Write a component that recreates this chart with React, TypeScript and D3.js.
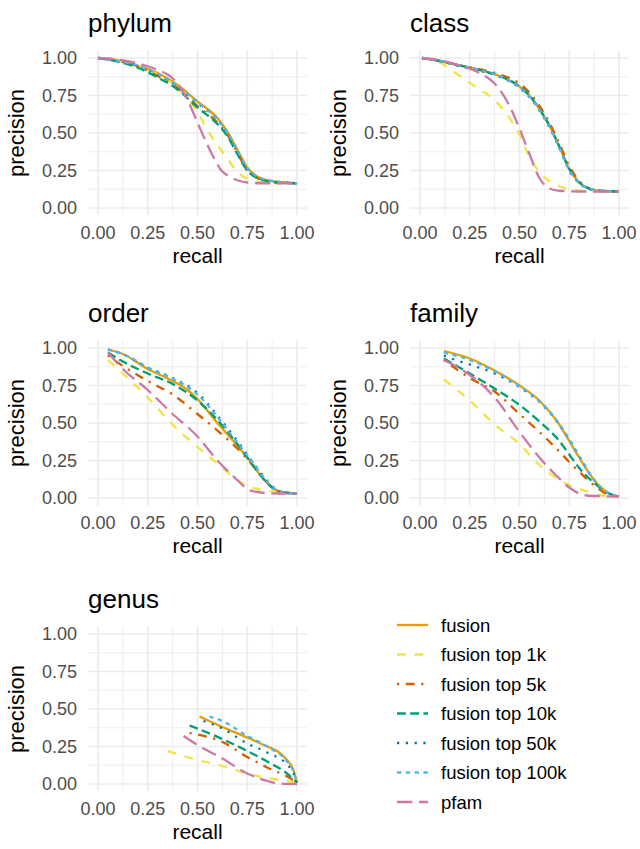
import React from "react";
import * as d3 from "d3";

// series order as in the legend
const seriesNames = [
  "fusion",
  "fusion top 1k",
  "fusion top 5k",
  "fusion top 10k",
  "fusion top 50k",
  "fusion top 100k",
  "pfam",
];
const seriesColors = ["#E69F00", "#F0E442", "#D55E00", "#009E73", "#0072B2", "#56B4E9", "#CC79A7"];
// ggplot style dash patterns (multiplied by line width below)
const seriesDash = ["", "4 4", "1 3 4 3", "4 2", "1 3", "2 2", "7 3"];

const ticks = [0, 0.25, 0.5, 0.75, 1];
const minorTicks = [0.125, 0.375, 0.625, 0.875];
const tickLabels = ["0.00", "0.25", "0.50", "0.75", "1.00"];

type Pt = [number, number];

// [recall, precision] per series, same order as seriesNames
const phylum: Pt[][] = [
  [[0, 1], [0.1, 0.985], [0.2, 0.95], [0.3, 0.9], [0.4, 0.82], [0.5, 0.71], [0.6, 0.6], [0.65, 0.51], [0.7, 0.39], [0.75, 0.27], [0.8, 0.21], [0.85, 0.185], [0.9, 0.175], [1, 0.165]],
  [[0, 1], [0.1, 0.985], [0.2, 0.95], [0.3, 0.89], [0.4, 0.8], [0.45, 0.73], [0.5, 0.64], [0.55, 0.52], [0.6, 0.42], [0.65, 0.33], [0.7, 0.24], [0.75, 0.195], [0.8, 0.175], [0.9, 0.165], [1, 0.165]],
  [[0, 1], [0.1, 0.98], [0.2, 0.945], [0.3, 0.88], [0.4, 0.8], [0.5, 0.68], [0.6, 0.57], [0.65, 0.49], [0.7, 0.37], [0.75, 0.25], [0.8, 0.2], [0.85, 0.18], [0.9, 0.17], [1, 0.165]],
  [[0, 1], [0.1, 0.975], [0.2, 0.935], [0.3, 0.87], [0.4, 0.79], [0.5, 0.67], [0.6, 0.56], [0.65, 0.48], [0.7, 0.36], [0.75, 0.25], [0.8, 0.2], [0.85, 0.18], [0.9, 0.17], [1, 0.165]],
  [[0, 1], [0.1, 0.98], [0.2, 0.95], [0.3, 0.89], [0.4, 0.81], [0.5, 0.7], [0.6, 0.59], [0.65, 0.5], [0.7, 0.38], [0.75, 0.26], [0.8, 0.205], [0.85, 0.185], [0.9, 0.175], [1, 0.165]],
  [[0, 1], [0.1, 0.98], [0.2, 0.95], [0.3, 0.895], [0.4, 0.815], [0.5, 0.705], [0.6, 0.59], [0.65, 0.505], [0.7, 0.385], [0.75, 0.265], [0.8, 0.21], [0.85, 0.185], [0.9, 0.175], [1, 0.165]],
  [[0, 1], [0.1, 0.99], [0.2, 0.965], [0.3, 0.92], [0.35, 0.89], [0.4, 0.83], [0.45, 0.72], [0.5, 0.57], [0.55, 0.42], [0.58, 0.34], [0.62, 0.25], [0.66, 0.21], [0.7, 0.185], [0.75, 0.17], [0.8, 0.165], [1, 0.165]],
];

const classLevel: Pt[][] = [
  [[0.01, 1], [0.1, 0.98], [0.2, 0.95], [0.3, 0.92], [0.4, 0.88], [0.5, 0.81], [0.55, 0.75], [0.6, 0.66], [0.65, 0.55], [0.7, 0.41], [0.75, 0.26], [0.8, 0.17], [0.85, 0.13], [0.9, 0.115], [1, 0.11]],
  [[0.01, 1], [0.1, 0.97], [0.2, 0.88], [0.3, 0.79], [0.375, 0.72], [0.45, 0.6], [0.5, 0.49], [0.55, 0.34], [0.6, 0.24], [0.65, 0.18], [0.7, 0.145], [0.8, 0.115], [0.9, 0.11], [1, 0.11]],
  [[0.01, 1], [0.1, 0.98], [0.2, 0.95], [0.3, 0.925], [0.4, 0.89], [0.5, 0.83], [0.55, 0.77], [0.6, 0.68], [0.65, 0.57], [0.7, 0.43], [0.75, 0.28], [0.8, 0.18], [0.85, 0.13], [0.9, 0.115], [1, 0.11]],
  [[0.01, 1], [0.1, 0.98], [0.2, 0.95], [0.3, 0.92], [0.4, 0.88], [0.5, 0.81], [0.55, 0.75], [0.6, 0.66], [0.65, 0.55], [0.7, 0.41], [0.75, 0.26], [0.8, 0.17], [0.85, 0.13], [0.9, 0.115], [1, 0.11]],
  [[0.01, 1], [0.1, 0.98], [0.2, 0.945], [0.3, 0.915], [0.4, 0.875], [0.5, 0.8], [0.55, 0.74], [0.6, 0.65], [0.65, 0.54], [0.7, 0.4], [0.75, 0.25], [0.8, 0.165], [0.85, 0.125], [0.9, 0.115], [1, 0.11]],
  [[0.01, 1], [0.1, 0.98], [0.2, 0.95], [0.3, 0.92], [0.4, 0.88], [0.5, 0.805], [0.55, 0.745], [0.6, 0.655], [0.65, 0.545], [0.7, 0.405], [0.75, 0.255], [0.8, 0.17], [0.85, 0.13], [0.9, 0.115], [1, 0.11]],
  [[0.01, 1], [0.1, 0.985], [0.2, 0.95], [0.3, 0.9], [0.375, 0.83], [0.45, 0.68], [0.5, 0.53], [0.55, 0.36], [0.6, 0.2], [0.65, 0.13], [0.7, 0.115], [0.8, 0.11], [1, 0.11]],
];

const order: Pt[][] = [
  [[0.05, 0.99], [0.125, 0.96], [0.25, 0.86], [0.375, 0.78], [0.45, 0.72], [0.5, 0.66], [0.6, 0.5], [0.7, 0.35], [0.75, 0.27], [0.8, 0.18], [0.875, 0.07], [0.92, 0.04], [1, 0.03]],
  [[0.05, 0.92], [0.125, 0.83], [0.25, 0.67], [0.375, 0.49], [0.5, 0.34], [0.6, 0.23], [0.7, 0.12], [0.75, 0.08], [0.85, 0.05], [1, 0.03]],
  [[0.05, 0.95], [0.125, 0.88], [0.25, 0.78], [0.375, 0.69], [0.5, 0.56], [0.6, 0.45], [0.7, 0.33], [0.75, 0.26], [0.8, 0.18], [0.875, 0.07], [0.92, 0.04], [1, 0.03]],
  [[0.05, 0.97], [0.125, 0.91], [0.25, 0.83], [0.375, 0.76], [0.5, 0.65], [0.6, 0.52], [0.7, 0.36], [0.75, 0.27], [0.8, 0.18], [0.875, 0.07], [0.92, 0.04], [1, 0.03]],
  [[0.05, 0.99], [0.125, 0.96], [0.25, 0.87], [0.375, 0.8], [0.5, 0.7], [0.6, 0.55], [0.7, 0.38], [0.75, 0.29], [0.8, 0.2], [0.875, 0.08], [0.92, 0.04], [1, 0.03]],
  [[0.05, 0.99], [0.125, 0.96], [0.25, 0.87], [0.375, 0.795], [0.5, 0.69], [0.6, 0.54], [0.7, 0.37], [0.75, 0.285], [0.8, 0.195], [0.875, 0.075], [0.92, 0.04], [1, 0.03]],
  [[0.05, 0.97], [0.125, 0.86], [0.25, 0.72], [0.375, 0.56], [0.5, 0.41], [0.6, 0.25], [0.7, 0.12], [0.75, 0.06], [0.8, 0.04], [0.9, 0.03], [1, 0.03]],
];

const family: Pt[][] = [
  [[0.12, 0.98], [0.25, 0.93], [0.375, 0.85], [0.5, 0.75], [0.6, 0.65], [0.7, 0.49], [0.75, 0.38], [0.8, 0.27], [0.875, 0.12], [0.95, 0.03], [1, 0.01]],
  [[0.12, 0.79], [0.25, 0.65], [0.375, 0.49], [0.5, 0.36], [0.6, 0.22], [0.7, 0.12], [0.75, 0.085], [0.85, 0.04], [0.9, 0.02], [1, 0.01]],
  [[0.12, 0.92], [0.25, 0.8], [0.375, 0.71], [0.5, 0.56], [0.6, 0.44], [0.7, 0.31], [0.75, 0.24], [0.8, 0.175], [0.875, 0.085], [0.95, 0.02], [1, 0.01]],
  [[0.12, 0.93], [0.25, 0.83], [0.375, 0.73], [0.5, 0.62], [0.6, 0.51], [0.7, 0.38], [0.75, 0.29], [0.8, 0.2], [0.875, 0.1], [0.95, 0.03], [1, 0.01]],
  [[0.12, 0.95], [0.2, 0.91], [0.25, 0.89], [0.375, 0.83], [0.5, 0.74], [0.6, 0.64], [0.7, 0.49], [0.75, 0.39], [0.8, 0.28], [0.875, 0.12], [0.95, 0.03], [1, 0.01]],
  [[0.12, 0.97], [0.25, 0.92], [0.375, 0.845], [0.5, 0.745], [0.6, 0.645], [0.7, 0.495], [0.75, 0.39], [0.8, 0.28], [0.875, 0.12], [0.95, 0.03], [1, 0.01]],
  [[0.12, 0.92], [0.25, 0.82], [0.375, 0.67], [0.5, 0.44], [0.6, 0.27], [0.7, 0.13], [0.75, 0.07], [0.8, 0.03], [0.85, 0.015], [1, 0.01]],
];

const genus: Pt[][] = [
  [[0.51, 0.45], [0.625, 0.38], [0.75, 0.31], [0.85, 0.25], [0.9, 0.22], [0.95, 0.16], [0.98, 0.1], [1, 0.01]],
  [[0.35, 0.22], [0.5, 0.16], [0.625, 0.12], [0.75, 0.07], [0.85, 0.04], [0.95, 0.02], [1, 0.01]],
  [[0.46, 0.34], [0.625, 0.28], [0.75, 0.18], [0.85, 0.11], [0.95, 0.05], [1, 0.01]],
  [[0.46, 0.39], [0.625, 0.3], [0.75, 0.22], [0.85, 0.15], [0.95, 0.07], [1, 0.01]],
  [[0.53, 0.42], [0.625, 0.37], [0.75, 0.27], [0.85, 0.21], [0.95, 0.13], [0.98, 0.08], [1, 0.01]],
  [[0.56, 0.45], [0.625, 0.42], [0.75, 0.32], [0.85, 0.25], [0.95, 0.15], [0.98, 0.09], [1, 0.01]],
  [[0.43, 0.32], [0.5, 0.26], [0.625, 0.17], [0.75, 0.07], [0.85, 0.02], [0.9, 0.005], [1, 0]],
];

const panelTitles = ["phylum", "class", "order", "family", "genus"];
const panelData = [phylum, classLevel, order, family, genus];

// layout
const colX = [98, 420];
const rowY = [58, 348, 634];
const plotW = 199;
const plotH = 150;
const lineW = 2.3;
const dashScale = 2.2;
const font = "'Liberation Sans', Arial, Helvetica, sans-serif";

const dashFor = (i: number) =>
  seriesDash[i]
    .split(" ")
    .filter((v) => v)
    .map((v) => +v * dashScale)
    .join(" ");

const Panel = ({ title, data, x0, y0 }: { title: string; data: Pt[][]; x0: number; y0: number }) => {
  const x = d3.scaleLinear().domain([0, 1]).range([x0, x0 + plotW]);
  const y = d3.scaleLinear().domain([0, 1]).range([y0 + plotH, y0]);
  const line = d3
    .line<Pt>()
    .x((d) => x(d[0]))
    .y((d) => y(d[1]))
    .curve(d3.curveMonotoneX);
  const left = x(-0.05);
  const right = x(1.05);
  const top = y(1.05);
  const bottom = y(-0.05);
  return (
    <g>
      {minorTicks.map((t) => (
        <g key={"m" + t}>
          <line x1={x(t)} x2={x(t)} y1={top} y2={bottom} stroke="#ebebeb" strokeWidth={0.9} />
          <line x1={left} x2={right} y1={y(t)} y2={y(t)} stroke="#ebebeb" strokeWidth={0.9} />
        </g>
      ))}
      {ticks.map((t) => (
        <g key={"M" + t}>
          <line x1={x(t)} x2={x(t)} y1={top} y2={bottom} stroke="#ebebeb" strokeWidth={1.7} />
          <line x1={left} x2={right} y1={y(t)} y2={y(t)} stroke="#ebebeb" strokeWidth={1.7} />
        </g>
      ))}
      {data.map((s, i) => (
        <path key={i} d={line(s) || ""} fill="none" stroke={seriesColors[i]} strokeWidth={lineW} strokeDasharray={dashFor(i)} />
      ))}
      {ticks.map((t, i) => (
        <text key={"yl" + t} x={x0 - 21} y={y(t)} dy="0.36em" textAnchor="end" fontSize={18} fill="#4d4d4d">
          {tickLabels[i]}
        </text>
      ))}
      {ticks.map((t, i) => (
        <text key={"xl" + t} x={x(t)} y={y0 + plotH + 31} textAnchor="middle" fontSize={18} fill="#4d4d4d">
          {tickLabels[i]}
        </text>
      ))}
      <text x={x(0.5)} y={y0 + plotH + 55} textAnchor="middle" fontSize={21} fill="#000">
        recall
      </text>
      <text transform={`translate(${x0 - 74},${y(0.5)}) rotate(-90)`} textAnchor="middle" fontSize={22} fill="#000">
        precision
      </text>
      <text x={left} y={y0 - 26} fontSize={26} fill="#000">
        {title}
      </text>
    </g>
  );
};

const App = () => {
  const legendX = 397;
  const legendY = 625;
  const legendStep = 29.5;
  return (
    <div style={{ position: "absolute", left: 0, top: 0 }}>
      <svg width={640} height={849} style={{ fontFamily: font, display: "block", background: "#fff" }}>
        {panelTitles.map((t, i) => (
          <Panel key={t} title={t} data={panelData[i]} x0={colX[i % 2]} y0={rowY[Math.floor(i / 2)]} />
        ))}
        {seriesNames.map((n, i) => (
          <g key={n} transform={`translate(${legendX},${legendY + i * legendStep})`}>
            <line x1={0} x2={31} y1={0} y2={0} stroke={seriesColors[i]} strokeWidth={lineW} strokeDasharray={dashFor(i)} />
            <text x={44} y={0} dy="0.36em" fontSize={18.5} fill="#000">
              {n}
            </text>
          </g>
        ))}
      </svg>
    </div>
  );
};

export default App;
